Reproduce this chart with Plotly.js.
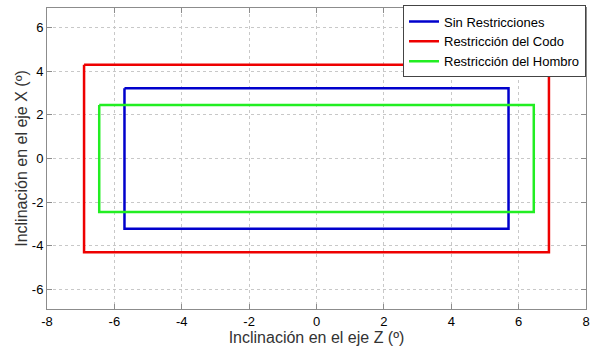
<!DOCTYPE html>
<html><head><meta charset="utf-8">
<script src="https://cdn.plot.ly/plotly-3.0.1.min.js"></script>
<style>body{margin:0}#c{width:592px;height:347px}</style>
</head><body><div id="c"></div>
<script>
const seriesNames = ["Sin Restricciones", "Restricción del Codo", "Restricción del Hombro"];
const seriesColors = ["#0000cc", "#ee0000", "#22ee22"];
const halfZ = [5.7, 6.9, 6.45];
const halfX = [3.22, 4.3, 2.45];
const xTicks = [-8, -6, -4, -2, 0, 2, 4, 6, 8];
const yTicks = [-6, -4, -2, 0, 2, 4, 6];

const traces = seriesNames.map((n, i) => ({
  type: 'scatter', mode: 'lines', name: n,
  x: [-halfZ[i], halfZ[i], halfZ[i], -halfZ[i], -halfZ[i]],
  y: [halfX[i], halfX[i], -halfX[i], -halfX[i], halfX[i]],
  line: {color: seriesColors[i], width: 2.5}
}));

const font = 'Liberation Sans, Arial, sans-serif';
const axisCommon = {
  showline: true, mirror: 'ticks', linecolor: '#8c8c8c', linewidth: 1,
  ticks: 'inside', ticklen: 5, tickcolor: '#8c8c8c',
  showgrid: true, gridcolor: '#c8c8c8', griddash: 'dot', gridwidth: 1,
  zeroline: false, tickfont: {family: font, size: 13, color: '#000'}
};

Plotly.newPlot('c', traces, {
  width: 592, height: 347,
  margin: {l: 47, r: 6, t: 7, b: 38},
  paper_bgcolor: '#fff', plot_bgcolor: '#fff',
  xaxis: Object.assign({}, axisCommon, {range: [-8, 8], tickvals: xTicks,
    ticktext: xTicks.map(String),
    title: {text: 'Inclinación en el eje Z (º)', standoff: 3, font: {family: font, size: 16, color: '#333'}}}),
  yaxis: Object.assign({}, axisCommon, {range: [-6.9, 6.9], tickvals: yTicks,
    ticktext: yTicks.map(String),
    title: {text: 'Inclinación en el eje X (º)', standoff: 0, font: {family: font, size: 16, color: '#333'}}}),
  showlegend: true,
  legend: {x: 1, y: 1.005, xanchor: 'right', yanchor: 'top', bgcolor: '#fff',
    bordercolor: '#444', borderwidth: 1, itemwidth: 30, tracegroupgap: 0,
    font: {family: font, size: 13, color: '#000'}}
}, {displayModeBar: false});
</script></body></html>
